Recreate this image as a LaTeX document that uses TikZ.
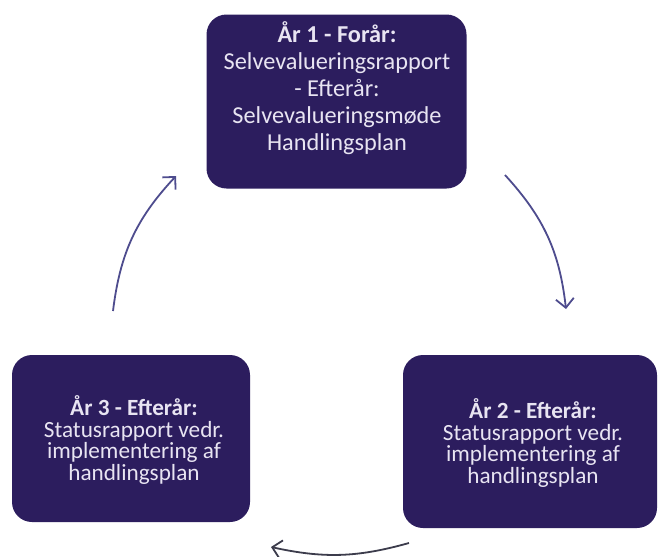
\documentclass[tikz,border=0pt]{standalone}
\usepackage{fontspec}
\setmainfont{Carlito}
\usetikzlibrary{arrows.meta}
\definecolor{boxfill}{HTML}{2C1D5E}
\definecolor{boxtext}{HTML}{E8E4F2}
\definecolor{arrowc}{HTML}{4E4C8E}
\definecolor{arrowg}{HTML}{3C3C4C}
\tikzset{
  stagebox/.style={draw=none, fill=boxfill, rounded corners=20pt, inner sep=0pt},
  toptext/.style={text=boxtext, align=center, font=\fontsize{24.3}{27}\selectfont, inner sep=0pt},
  bottext/.style={text=boxtext, align=center, font=\fontsize{23.2}{21.5}\selectfont, inner sep=0pt},
  cyclearrow/.style={draw=arrowc, line width=1.8pt, -{Straight Barb[length=9pt,width=18pt,line width=1.8pt]}},
}
\begin{document}
\begin{tikzpicture}[x=1pt,y=-1pt]
\useasboundingbox (0,0) rectangle (659,557);
\fill[white] (0,0) rectangle (659,557);
% boxes
\node[stagebox, minimum width=260pt, minimum height=174pt] (b1) at (336.5,101.5) {};
\node[stagebox, minimum width=238pt, minimum height=167pt] (b3) at (131,438.5) {};
\node[stagebox, minimum width=254pt, minimum height=173pt] (b2) at (530,441.5) {};
% texts
\node[toptext] (t1) at (337,88) {\textbf{År 1 - Forår:}\\Selvevalueringsrapport\\- Efterår:\\Selvevalueringsmøde\\Handlingsplan};
\node[bottext] (t3) at (134,440) {\textbf{År 3 - Efterår:}\\Statusrapport vedr.\\implementering af\\handlingsplan};
\node[bottext] (t2) at (533,443) {\textbf{År 2 - Efterår:}\\Statusrapport vedr.\\implementering af\\handlingsplan};
% arrow end points
\coordinate (a1s) at (505,175);
\coordinate (a1e) at (566,309);
\coordinate (a2s) at (409,543);
\coordinate (a2e) at (271,547);
\coordinate (a3s) at (113,311);
\coordinate (a3e) at (176,176);
\draw[cyclearrow] (a1s) to[bend left=18] (a1e);
\draw[cyclearrow, draw=arrowg] (a2s) to[bend left=14] (a2e);
\draw[cyclearrow] (a3s) to[bend left=18] (a3e);
\end{tikzpicture}
\end{document}
